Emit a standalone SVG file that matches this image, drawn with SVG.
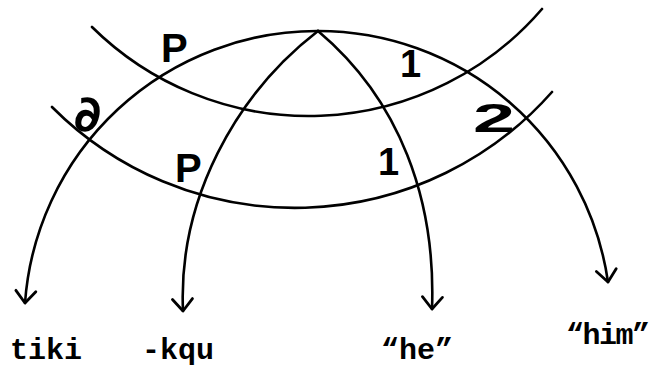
<svg xmlns="http://www.w3.org/2000/svg" width="654" height="369" viewBox="0 0 654 369">
  <style>
    .ln { fill: none; stroke: #000; stroke-width: 2.6; stroke-linecap: round; stroke-linejoin: round; }
    .arw { fill: none; stroke: #000; stroke-width: 2.8; stroke-linecap: round; stroke-linejoin: round; }
    .hand { font-family: "Liberation Sans", "DejaVu Sans", sans-serif; font-weight: bold; fill: #000; }
    .typ { font-family: "Liberation Mono", "DejaVu Sans Mono", monospace; font-weight: bold; font-size: 30px; fill: #000; }
  </style>
  <defs>
    <marker id="vhead" markerUnits="userSpaceOnUse" markerWidth="30" markerHeight="30" viewBox="-15 -15 30 30" refX="0" refY="0" orient="auto">
      <path class="arw" d="M -12 -10 L 0 0 L -12 10"/>
    </marker>
  </defs>
  <rect width="654" height="369" fill="#fff"/>

  <g id="connectors">
    <path id="upper-band" class="ln" d="M 92 27 A 308 308 0 0 0 542 9"/>
    <path id="lower-band" class="ln" d="M 52 107 A 343 343 0 0 0 552 92"/>
    <path id="to-tiki" class="ln" d="M 318 31 A 293 293 0 0 0 25 303" marker-end="url(#vhead)"/>
    <path id="to-him" class="ln" d="M 318 31 A 293 293 0 0 1 608 282" marker-end="url(#vhead)"/>
    <path id="to-kqu" class="ln" d="M 318 31 C 235 95, 178 200, 183 311" marker-end="url(#vhead)"/>
    <path id="to-he" class="ln" d="M 318 31 C 400 100, 436 200, 432 309" marker-end="url(#vhead)"/>
  </g>

  <g id="label-P-upper"><text class="hand" x="161" y="62" font-size="40">P</text></g>
  <g id="label-d"><text x="74" y="131" font-size="50" font-weight="bold" font-family="DejaVu Sans, sans-serif" fill="#000">∂</text></g>
  <g id="label-P-lower"><text class="hand" x="175" y="182" font-size="40">P</text></g>
  <g id="label-1-upper"><text class="hand" x="400" y="77" font-size="38">1</text></g>
  <g id="label-1-lower"><text class="hand" x="378" y="175" font-size="38">1</text></g>
  <g id="label-2"><text class="hand" x="473" y="132" font-size="40" textLength="42" lengthAdjust="spacingAndGlyphs">2</text></g>

  <g id="node-tiki"><text class="typ" x="10" y="359">tiki</text></g>
  <g id="node-kqu"><text class="typ" x="142" y="359">-kqu</text></g>
  <g id="node-he"><text class="typ" x="381" y="359">“he”</text></g>
  <g id="node-him"><text class="typ" x="566" y="344" letter-spacing="-1.5">“him”</text></g>
</svg>
